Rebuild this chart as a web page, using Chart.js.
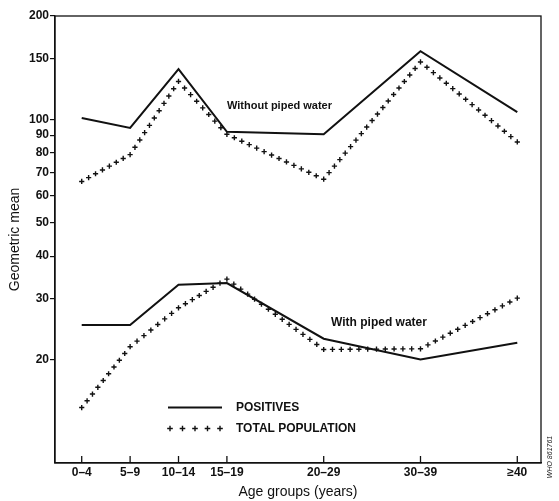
<!DOCTYPE html>
<html>
<head>
<meta charset="utf-8">
<script src="https://cdn.jsdelivr.net/npm/chart.js@4.4.1/dist/chart.umd.min.js"></script>
<style>
  html, body { margin: 0; padding: 0; background: #fff; }
  #wrap { width: 559px; height: 501px; }
</style>
</head>
<body>
<div id="wrap"><canvas id="c" width="559" height="501"></canvas></div>
<script>
// ---- data ----
const ageGroups = ['0–4', '5–9', '10–14', '15–19', '20–29', '30–39', '≥40'];
const groupPos = [2, 7, 12, 17, 27, 37, 47];            // age-axis position of each group
const withoutPositives = [101, 94.5, 140, 92, 90.5, 158, 105];
const withoutTotal     = [66, 79, 129, 90.5, 67, 147, 86];
const withPositives    = [25.2, 25.2, 33, 33.4, 23, 20, 22.4];
const withTotal        = [14.5, 21.8, 28.3, 34.3, 21.4, 21.5, 30.2];
const yTicks = [20, 30, 40, 50, 60, 70, 80, 90, 100, 150, 200];

const FONT = "'Liberation Sans', Arial, Helvetica, sans-serif";
const toXY = (vals) => vals.map((v, i) => ({ x: groupPos[i], y: v }));

function drawCross(ctx, x, y, r) {
  ctx.beginPath();
  ctx.moveTo(x - r, y); ctx.lineTo(x + r, y);
  ctx.moveTo(x, y - r); ctx.lineTo(x, y + r);
  ctx.stroke();
}

const crossPlugin = {
  id: 'crossLines',
  afterDatasetsDraw(chart) {
    const ctx = chart.ctx;
    chart.data.datasets.forEach((ds, di) => {
      if (!ds.crossLine) return;
      const pts = chart.getDatasetMeta(di).data;
      ctx.save();
      ctx.strokeStyle = '#111';
      ctx.lineWidth = 1.4;
      for (let i = 0; i < pts.length - 1; i++) {
        const a = pts[i], b = pts[i + 1];
        const len = Math.hypot(b.x - a.x, b.y - a.y);
        const n = Math.max(1, Math.round(len / 8.5));
        const last = (i === pts.length - 2) ? 1 : 0;
        for (let k = 0; k < n + last; k++) {
          const t = k / n;
          drawCross(ctx, a.x + (b.x - a.x) * t, a.y + (b.y - a.y) * t, 2.6);
        }
      }
      ctx.restore();
    });
  }
};

const framePlugin = {
  id: 'frame',
  afterDraw(chart) {
    const { ctx, chartArea: ca, scales } = chart;
    ctx.save();
    ctx.strokeStyle = '#111';
    ctx.lineWidth = 1.3;
    ctx.strokeRect(ca.left, ca.top, ca.right - ca.left, ca.bottom - ca.top);
    // inward ticks on the age axis
    const xs = scales.x;
    xs.ticks.forEach(t => {
      const px = xs.getPixelForValue(t.value);
      ctx.beginPath();
      ctx.moveTo(px, ca.bottom);
      ctx.lineTo(px, ca.bottom - 7);
      ctx.stroke();
    });
    ctx.restore();
  }
};

const labelPlugin = {
  id: 'labels',
  afterDraw(chart) {
    const ctx = chart.ctx;
    ctx.save();
    ctx.fillStyle = '#111';
    ctx.textBaseline = 'middle';
    ctx.textAlign = 'left';
    ctx.font = 'bold 11px ' + FONT;
    ctx.fillText('Without piped water', 227, 106);
    ctx.font = 'bold 12px ' + FONT;
    ctx.fillText('With piped water', 331, 323);

    // legend
    ctx.strokeStyle = '#111';
    ctx.lineWidth = 2;
    ctx.beginPath();
    ctx.moveTo(168, 407.5); ctx.lineTo(222, 407.5);
    ctx.stroke();
    ctx.lineWidth = 1.4;
    for (let k = 0; k < 5; k++) drawCross(ctx, 170 + k * 12.5, 428.5, 2.8);
    ctx.font = 'bold 12px ' + FONT;
    ctx.fillText('POSITIVES', 236, 407.5);
    ctx.fillText('TOTAL POPULATION', 236, 429);

    // figure reference
    ctx.translate(550, 457);
    ctx.rotate(-Math.PI / 2);
    ctx.textAlign = 'center';
    ctx.font = 'italic 7px ' + FONT;
    ctx.fillText('WHO 861761', 0, 0);
    ctx.restore();
  }
};

new Chart(document.getElementById('c'), {
  type: 'line',
  data: {
    datasets: [
      { label: 'POSITIVES (without piped water)', data: toXY(withoutPositives),
        borderColor: '#111', borderWidth: 2, pointRadius: 0, tension: 0 },
      { label: 'TOTAL POPULATION (without piped water)', data: toXY(withoutTotal),
        showLine: false, pointRadius: 0, crossLine: true },
      { label: 'POSITIVES (with piped water)', data: toXY(withPositives),
        borderColor: '#111', borderWidth: 2, pointRadius: 0, tension: 0 },
      { label: 'TOTAL POPULATION (with piped water)', data: toXY(withTotal),
        showLine: false, pointRadius: 0, crossLine: true }
    ]
  },
  options: {
    responsive: false,
    animation: false,
    layout: { padding: { top: 16, right: 18, left: 0, bottom: 0 } },
    plugins: { legend: { display: false }, tooltip: { enabled: false } },
    scales: {
      x: {
        type: 'linear',
        min: -0.76, max: 49.45,
        afterBuildTicks: s => { s.ticks = groupPos.map(v => ({ value: v })); },
        afterFit: s => { s.height = 38; },
        grid: { display: false, drawTicks: false, tickLength: 0 },
        border: { display: true, color: '#111', width: 1.3 },
        ticks: {
          color: '#111', padding: 2, maxRotation: 0, autoSkip: false,
          font: { family: FONT, size: 12, weight: 'bold' },
          callback: (v, i) => ageGroups[i]
        },
        title: {
          display: true, text: 'Age groups (years)', color: '#111',
          font: { family: FONT, size: 14 }, padding: { top: 0, bottom: 0 }
        }
      },
      y: {
        type: 'logarithmic',
        min: 10, max: 200,
        afterBuildTicks: s => { s.ticks = yTicks.map(v => ({ value: v })); },
        afterFit: s => { s.width = 55; },
        grid: { display: true, drawOnChartArea: false, drawTicks: true, tickLength: 5, color: '#111', lineWidth: 1.2 },
        border: { display: true, color: '#111', width: 1.3 },
        ticks: {
          color: '#111', padding: 1, autoSkip: false,
          font: { family: FONT, size: 12, weight: 'bold' },
          callback: v => String(v)
        },
        title: {
          display: true, text: 'Geometric mean', color: '#111',
          font: { family: FONT, size: 14 }, padding: { top: 7, bottom: 0 }
        }
      }
    }
  },
  plugins: [crossPlugin, framePlugin, labelPlugin]
});
</script>
</body>
</html>
